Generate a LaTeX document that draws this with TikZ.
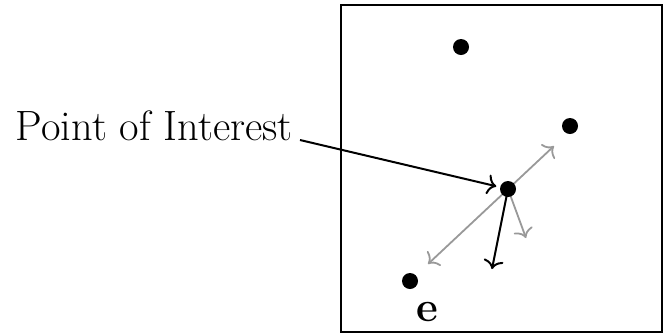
\documentclass[tikz,border=0pt]{standalone}
\usetikzlibrary{arrows.meta,backgrounds}
\begin{document}
\begin{tikzpicture}[x=0.5pt,y=-0.5pt,
  dot/.style={circle,fill=black,inner sep=0pt,minimum size=8pt,outer sep=2pt},
  lbl/.style={font=\fontsize{21.2}{25}\selectfont},
  blk/.style={line width=1pt,-{To[length=4.5pt,width=10pt]}},
  gry/.style={line width=0.9pt,draw=black!40,{To[length=4.5pt,width=10pt]}-{To[length=4.5pt,width=10pt]}},
  gryone/.style={line width=0.9pt,draw=black!40,-{To[length=4.5pt,width=10pt]}}]
\useasboundingbox (0,0) rectangle (663,334);
\draw[line width=1pt] (341,5) rectangle (662,332);
\node[dot] (top) at (461,47) {};
\node[dot] (right) at (570,126) {};
\node[dot] (c) at (508,189) {};
\node[dot] (bl) at (410,281) {};
\node[lbl,font=\fontsize{21.2}{25}\selectfont\bfseries] (e) at (427,312) {e};
\node[lbl,anchor=base east] (poi) at (300,140) {Point of Interest};
\coordinate (g1) at (428,264);
\coordinate (g2) at (554,146);
\coordinate (g3) at (526,238);
\coordinate (b1) at (492,269);
\begin{scope}[on background layer]
\draw[gry] (g1) -- (g2);
\draw[gryone] (c.center) -- (g3);
\draw[blk] (c.center) -- (b1);
\end{scope}
\draw[blk] (poi.base east) -- (c);
\end{tikzpicture}
\end{document}
